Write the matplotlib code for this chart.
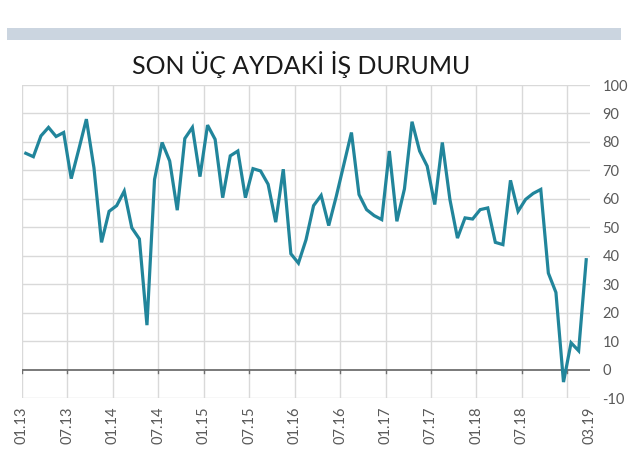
import matplotlib
matplotlib.use("Agg")
import matplotlib.pyplot as plt
from matplotlib.patches import Rectangle

values = [76.0, 74.8, 82.1, 85.1, 81.9, 83.3, 67.1, 77.4, 88.0, 70.9,
          44.7, 55.6, 57.6, 62.7, 49.8, 45.9, 15.6, 66.8, 79.8, 73.3,
          56.0, 81.2, 85.1, 67.8, 85.9, 80.9, 60.4, 75.1, 76.8, 60.4,
          70.6, 69.8, 65.1, 51.8, 70.4, 40.7, 37.4, 45.6, 57.6, 61.2,
          50.6, 60.9, 72.1, 83.3, 61.5, 56.2, 54.1, 52.7, 76.8, 52.1,
          63.5, 87.1, 76.8, 71.5, 58.0, 79.8, 59.8, 46.2, 53.3, 52.9,
          56.2, 56.8, 44.7, 43.9, 66.5, 55.6, 59.8, 61.9, 63.3, 33.9,
          27.1, -4.4, 9.4, 6.6, 38.6]
tick_labels = ["01.13", "07.13", "01.14", "07.14", "01.15", "07.15", "01.16",
               "07.16", "01.17", "07.17", "01.18", "07.18", "03.19"]
y_ticks = [-10, 0, 10, 20, 30, 40, 50, 60, 70, 80, 90, 100]
title = "SON ÜÇ AYDAKİ İŞ DURUMU"

plt.rcParams['font.family'] = ['Lato', 'DejaVu Sans']

fig = plt.figure(figsize=(6.4, 4.7), dpi=100)
fig.patch.set_facecolor("white")

# top decorative bar
fig.patches.append(Rectangle((7/640, 1-40/470), 614/640, 12/470,
                             transform=fig.transFigure, facecolor="#cbd5e0",
                             edgecolor="none"))

ax = fig.add_axes([22/640, 1-398/470, 568/640, 313/470])
x = list(range(len(values)))
ax.plot(x, values, color="#21859b", linewidth=2.3, solid_joinstyle="miter", zorder=3)

ax.set_xlim(-0.5, len(values) - 0.5)
ax.set_ylim(-10, 100)

grid_x = [-0.5 + 6 * k for k in range(13)]
label_x = grid_x[:12] + [len(values) - 0.5]
for gx in grid_x:
    ax.axvline(gx, color="#d9d9d9", linewidth=1.0, zorder=1)
for yv in y_ticks:
    if yv != 0:
        ax.axhline(yv, color="#d9d9d9", linewidth=1.0, zorder=1)
ax.axhline(0, color="#6e6e6e", linewidth=1.3, zorder=2)
for gx in grid_x:
    ax.plot([gx, gx], [0, -1.3], color="#6e6e6e", linewidth=1.0, zorder=2)

for s in ax.spines.values():
    s.set_visible(False)

ax.set_xticks(label_x)
ax.set_xticklabels(tick_labels, rotation=90, color="#595959", fontsize=10.5)
ax.tick_params(axis="x", length=0, pad=6)
ax.yaxis.tick_right()
ax.set_yticks(y_ticks)
ax.set_yticklabels([str(v) for v in y_ticks], color="#595959", fontsize=10.5)
ax.tick_params(axis="y", length=0, pad=9)

fig.text(301/640, 1-65/470, title, ha="center", va="center", fontsize=18,
         color="#1a1a1a")

fig.savefig("out.png", dpi=100, facecolor="white")
